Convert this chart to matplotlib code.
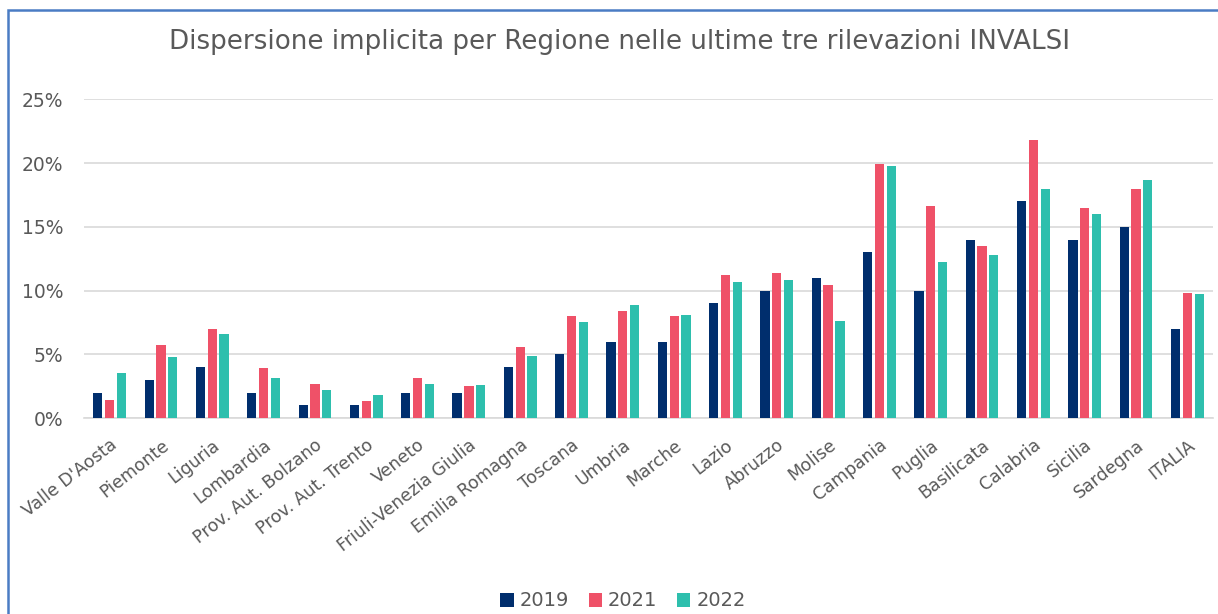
import numpy as np
import matplotlib
matplotlib.use('Agg')
import matplotlib.pyplot as plt
from matplotlib.patches import Rectangle

regioni = ["Valle D'Aosta", 'Piemonte', 'Liguria', 'Lombardia', 'Prov. Aut. Bolzano',
           'Prov. Aut. Trento', 'Veneto', 'Friuli-Venezia Giulia', 'Emilia Romagna',
           'Toscana', 'Umbria', 'Marche', 'Lazio', 'Abruzzo', 'Molise', 'Campania',
           'Puglia', 'Basilicata', 'Calabria', 'Sicilia', 'Sardegna', 'ITALIA']
anni = ['2019', '2021', '2022']
v2019 = [2.0, 3.0, 4.0, 2.0, 1.0, 1.0, 2.0, 2.0, 4.0, 5.0, 6.0, 6.0, 9.0, 10.0, 11.0,
         13.0, 10.0, 14.0, 17.0, 14.0, 15.0, 7.0]
v2021 = [1.4, 5.7, 7.0, 3.9, 2.7, 1.3, 3.1, 2.5, 5.6, 8.0, 8.4, 8.0, 11.2, 11.4, 10.4,
         19.9, 16.6, 13.5, 21.8, 16.5, 18.0, 9.8]
v2022 = [3.5, 4.8, 6.6, 3.1, 2.2, 1.8, 2.7, 2.6, 4.9, 7.5, 8.9, 8.1, 10.7, 10.8, 7.6,
         19.8, 12.2, 12.8, 18.0, 16.0, 18.7, 9.7]
colori = ['#002E6D', '#EF5168', '#2EBFAD']

plt.rcParams['font.family'] = ['DejaVu Sans']

fig = plt.figure(figsize=(12.18, 6.14), dpi=100)
ax = fig.add_axes([84 / 1218, 1 - 418 / 614, (1213 - 84) / 1218, (418 - 99.3) / 614])

x = np.arange(len(regioni))
w = 0.18
off = 0.23
for i, (serie, col, lab) in enumerate(zip([v2019, v2021, v2022], colori, anni)):
    ax.bar(x + (i - 1) * off, serie, width=w, color=col, label=lab, zorder=3)

ax.set_xlim(-0.5, len(regioni) - 0.5)
ax.set_ylim(0, 25)
ax.set_yticks([0, 5, 10, 15, 20, 25])
ax.set_yticklabels([f'{t}%' for t in [0, 5, 10, 15, 20, 25]])
ax.yaxis.grid(True, color='#d9d9d9', linewidth=1.2, zorder=0)
ax.set_xticks(x)
ax.set_xticklabels(regioni, rotation=38, ha='right', rotation_mode='anchor')
ax.tick_params(axis='x', length=0, pad=13, labelsize=12.5, labelcolor='#595959')
ax.tick_params(axis='y', length=0, pad=15, labelsize=13.5, labelcolor='#595959')
for s in ['top', 'right', 'left']:
    ax.spines[s].set_visible(False)
ax.spines['bottom'].set_color('#d9d9d9')
ax.spines['bottom'].set_linewidth(1.2)

fig.text(620 / 1218, 1 - 42 / 614, 'Dispersione implicita per Regione nelle ultime tre rilevazioni INVALSI',
         ha='center', va='center', fontsize=18.8, color='#595959')

leg = fig.legend(loc='center', bbox_to_anchor=(623 / 1218, 1 - 601 / 614), ncol=3, frameon=False,
                 fontsize=14, handlelength=0.7, handleheight=0.7, handletextpad=0.3,
                 columnspacing=1.0)
for t in leg.get_texts():
    t.set_color('#595959')

# cornice blu
fig.patches.append(Rectangle((8 / 1218, -0.1), 1.2, 1 - 10 / 614 + 0.1, transform=fig.transFigure,
                             fill=False, edgecolor='#4A7CC4', linewidth=1.8))

fig.savefig('out.png', dpi=100)
